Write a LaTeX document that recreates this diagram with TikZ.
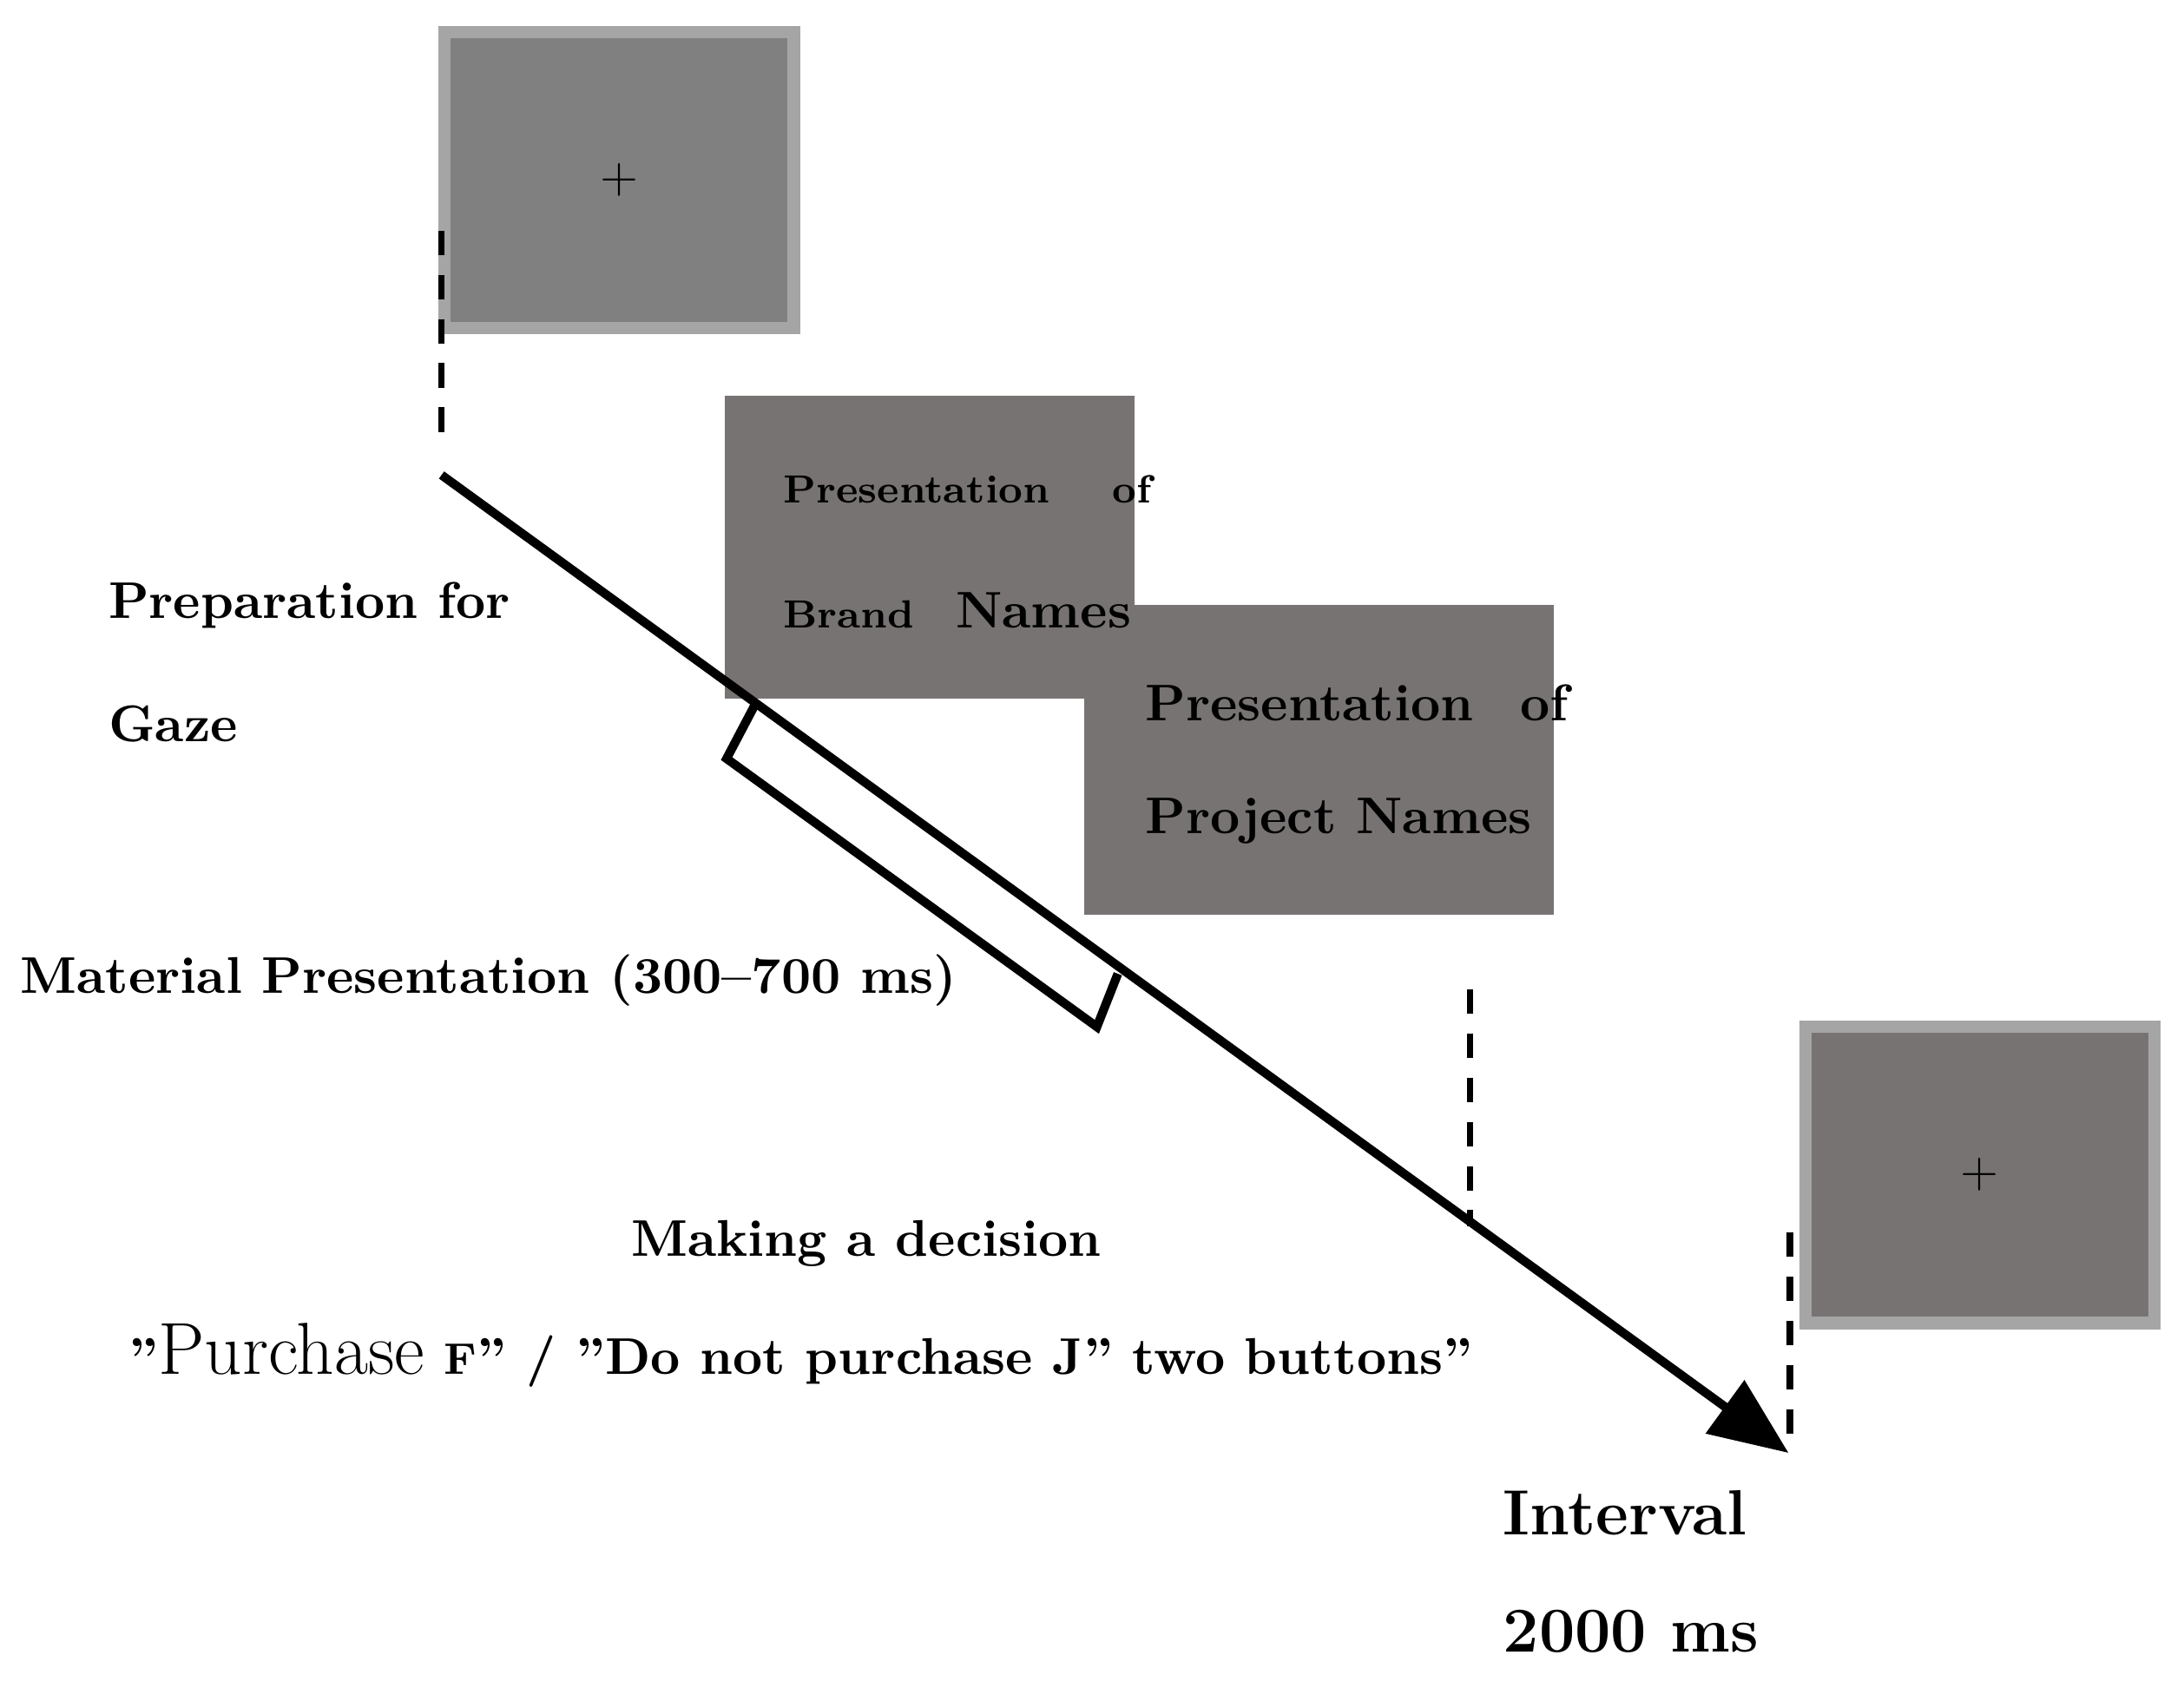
\documentclass[tikz,border=0pt]{standalone}
\usepackage{amsmath}
\usetikzlibrary{arrows.meta}
\definecolor{fixgray}{RGB}{128,128,128}
\definecolor{screengray}{RGB}{120,115,115}
\definecolor{rimgray}{RGB}{165,165,165}
\tikzset{
  screen/.style={draw=rimgray, line width=2.5pt, fill=#1, minimum width=2.5cm, minimum height=2.12cm, inner sep=0pt},
  lbl/.style={font=\bfseries\fontsize{10.5}{12}\selectfont, inner sep=0pt},
  tick/.style={line width=1.3pt, dash pattern=on 5pt off 4pt}
}
\begin{document}
\begin{tikzpicture}[x=0.01cm,y=-0.01cm]
    \useasboundingbox (0,0) rectangle (1563,1208);

    \node[screen=fixgray] (fix1) at (443,129) {$+$};
    \node[screen=screengray] (fix2) at (1417,841) {$+$};

    \fill[screengray] (519,283) rectangle (812,500);
    \fill[screengray] (776,433) rectangle (1112,655);
    \node[lbl, anchor=west, font=\bfseries\fontsize{8}{10}\selectfont] (brand1) at (560,350) {Presentation\hspace{1.6em}of};
    \node[lbl, anchor=west] (brand2) at (560,437) {{\fontsize{8}{10}\selectfont Brand}\hspace{0.8em}Names};
    \node[lbl, anchor=west] (proj1) at (819,503) {Presentation\hspace{0.9em}of};
    \node[lbl, anchor=west] (proj2) at (819,588) {Project Names};

    % time line
    \coordinate (start) at (316,340);
    \coordinate (tip) at (1280,1040);
    \draw[line width=1.8pt, -{Triangle[length=16pt,width=13pt]}] (start) -- (tip);
    \draw[line width=1.8pt] (540,505) -- (520,543) -- (785,735) -- (800,697);

    \draw[tick] (316,165) -- (316,320);
    \draw[tick] (1052,708) -- (1052,878);
    \draw[tick] (1281,882) -- (1281,1035);

    \node[lbl, anchor=west] (prep1) at (77,433) {Preparation for};
    \node[lbl, anchor=west] (prep2) at (77,518) {Gaze};
    \node[lbl, anchor=west] (mat) at (14,702) {Material Presentation (300--700 ms)};
    \node[lbl] (dec) at (620,890) {Making a decision};
    \node[lbl] (btn) at (573,970) {"{\mdseries\fontsize{15}{17}\selectfont Purchase} {\fontsize{9}{10}\selectfont F}" / "Do not purchase J" two buttons''};
    \node[lbl, anchor=west, font=\bfseries\fontsize{13}{15}\selectfont] (int1) at (1075,1083) {Interval};
    \node[lbl, anchor=west, font=\bfseries\fontsize{13}{15}\selectfont] (int2) at (1075,1168) {2000 ms};
\end{tikzpicture}
\end{document}
